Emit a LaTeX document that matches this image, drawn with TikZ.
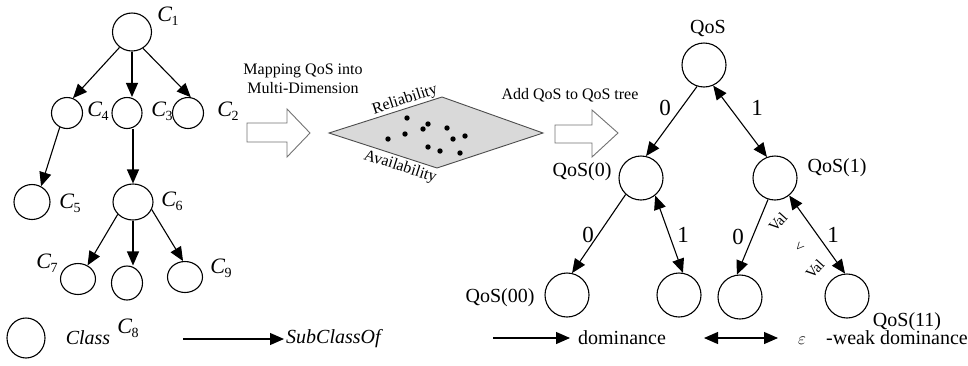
\documentclass[tikz,border=0pt]{standalone}
\usepackage{fontspec}
\setmainfont{Liberation Serif}
\usetikzlibrary{arrows.meta,shapes.geometric}
\newcommand\CL[1]{\textit{C}\kern-0.5pt\raisebox{-0.4ex}{\fontsize{14}{14}\selectfont #1}}
\tikzset{
  cls/.style={draw, ellipse, inner sep=0pt, line width=1.1pt},
  qn/.style={draw, circle, minimum size=44pt, inner sep=0pt, line width=1.1pt},
  arr/.style={-{Triangle[length=14pt,width=12pt]}, line width=1.1pt},
  darr/.style={{Triangle[length=14pt,width=12pt]}-{Triangle[length=14pt,width=12pt]}, line width=1.1pt},
  lbl/.style={font=\fontsize{20}{22}\selectfont, inner sep=0pt},
  clbl/.style={font=\fontsize{22}{24}\selectfont, inner sep=0pt},
  elbl/.style={font=\fontsize{23}{24}\selectfont, inner sep=0pt},
  small/.style={font=\fontsize{16}{18}\selectfont, inner sep=0pt},
  vlbl/.style={font=\fontsize{15}{16}\selectfont, inner sep=0pt, rotate=48},
  hollow/.style={draw=black!55, fill=white, line width=0.9pt},
  dot/.style={fill=black},
}
\begin{document}
\begin{tikzpicture}[x=1pt,y=-1pt]
\useasboundingbox (0,0) rectangle (968,365);

% ---------- left class tree ----------
\node[cls, minimum width=39pt, minimum height=38pt] (c1) at (132,32) {};
\node[cls, minimum width=31pt, minimum height=31pt] (c4) at (67,113) {};
\node[cls, minimum width=30pt, minimum height=31pt] (c3) at (127,113) {};
\node[cls, minimum width=31pt, minimum height=31pt] (c2) at (188,113) {};
\node[cls, minimum width=36pt, minimum height=35pt] (c5) at (32,202) {};
\node[cls, minimum width=40pt, minimum height=36pt] (c6) at (133,202) {};
\node[cls, minimum width=35pt, minimum height=31pt] (c7) at (78,279) {};
\node[cls, minimum width=31pt, minimum height=34pt] (c8) at (127,283) {};
\node[cls, minimum width=35pt, minimum height=31pt] (c9) at (185,277) {};

\node[clbl] (l1) at (168,16) {\CL{1}};
\node[clbl] (l4) at (98,111) {\CL{4}};
\node[clbl] (l3) at (162,111) {\CL{3}};
\node[clbl] (l2) at (228,111) {\CL{2}};
\node[clbl] (l5) at (70,203) {\CL{5}};
\node[clbl] (l6) at (172,201) {\CL{6}};
\node[clbl] (l7) at (47,263) {\CL{7}};
\node[clbl] (l8) at (128,328) {\CL{8}};
\node[clbl] (l9) at (221,268) {\CL{9}};

\draw[arr] (c1.-129) -- (c4.68);
\draw[arr] (c1.south) -- (c1.south |- c3.north);
\draw[arr] (c1.-56) -- (c2.80);
\draw[arr] (c4.-117) -- (c5.60);
\draw[arr] (c6.north |- c3.south) -- (c6.north);
\draw[arr] (c6.-141) -- (c7.55);
\draw[arr] (c6.south) -- (c6.south |- c8.north);
\draw[arr] (c6.-22) -- (c9.97);

% legend left
\node[cls, minimum width=38pt, minimum height=40pt] (lg) at (26,338) {};
\node[lbl] (lgt) at (88,338) {\textit{Class}};
\coordinate (sa) at (183,339);
\coordinate (sb) at (284,339);
\draw[arr] (sa) -- (sb);
\node[lbl, anchor=west] (sct) at (286,339) {\textit{SubClassOf}};

% ---------- middle ----------
\node[small] (m1) at (303,71) {Mapping QoS into};
\node[small] (m2) at (303,88) {Multi-Dimension};
\draw[hollow] (247,123) -- (287,123) -- (287,109) -- (310,133) -- (287,157) -- (287,142) -- (247,142) -- cycle;

\draw[draw=black!70, fill=black!15, line width=0.9pt] (329,133) -- (442,97) -- (543,133) -- (437,168) -- cycle;
\foreach \p in {(407,118),(428,124),(423,129),(447,128),(405,134),(388,139),(453,139),(465,136),(428,147),(440,151),(460,153)}
  \fill[dot] \p circle (2.7pt);
\node[small, rotate=18] (rel) at (405,100) {Reliability};
\node[small, rotate=-18] (ava) at (400,167) {Availability};

\node[small] (addt) at (570,95) {Add QoS to QoS tree};
\draw[hollow] (555,125) -- (592,125) -- (592,110) -- (618,133) -- (592,157) -- (592,143) -- (555,143) -- cycle;

% ---------- QoS tree ----------
\node[qn] (q) at (704,65) {};
\node[qn] (q0) at (641,178) {};
\node[qn] (q1) at (775,178) {};
\node[qn] (q00) at (567,295) {};
\node[qn] (q01) at (679,295) {};
\node[qn] (q10) at (740,297) {};
\node[qn] (q11) at (847,296) {};

\node[lbl] (tq) at (708,28) {QoS};
\node[lbl] (tq0) at (582,172) {QoS(0)};
\node[lbl] (tq1) at (837,168) {QoS(1)};
\node[lbl] (tq00) at (500,298) {QoS(00)};
\node[lbl] (tq11) at (907,322) {QoS(11)};

\draw[arr] (q.-108) -- (q0.77);
\draw[darr] (q.-66) -- (q1.111);
\draw[arr] (q0.-133) -- (q00.77);
\draw[darr] (q0.-51) -- (q01.80);
\draw[arr] (q1.-108) -- (q10.98);
\draw[darr] (q1.-51) -- (q11.95);

\node[elbl] (e1) at (665,108) {0};
\node[elbl] (e2) at (757,108) {1};
\node[elbl] (e3) at (588,235) {0};
\node[elbl] (e4) at (683,235) {1};
\node[elbl] (e5) at (738,237) {0};
\node[elbl] (e6) at (833,235) {1};

\node[vlbl] (v1) at (778,222) {Val};
\node[vlbl] (v2) at (800,247) {<};
\node[vlbl] (v3) at (815,269) {Val};

% legend right
\coordinate (da) at (493,338);
\coordinate (db) at (570,338);
\draw[arr] (da) -- (db);
\node[lbl] (dt) at (622,338) {dominance};
\coordinate (wa) at (704,338);
\coordinate (wb) at (778,338);
\draw[darr] (wa) -- (wb);
\node[inner sep=0pt, font=\fontsize{17}{18}\selectfont] (eps) at (802,341) {$\varepsilon$};
\node[lbl] (wt) at (897,338) {-weak dominance};
\end{tikzpicture}
\end{document}
